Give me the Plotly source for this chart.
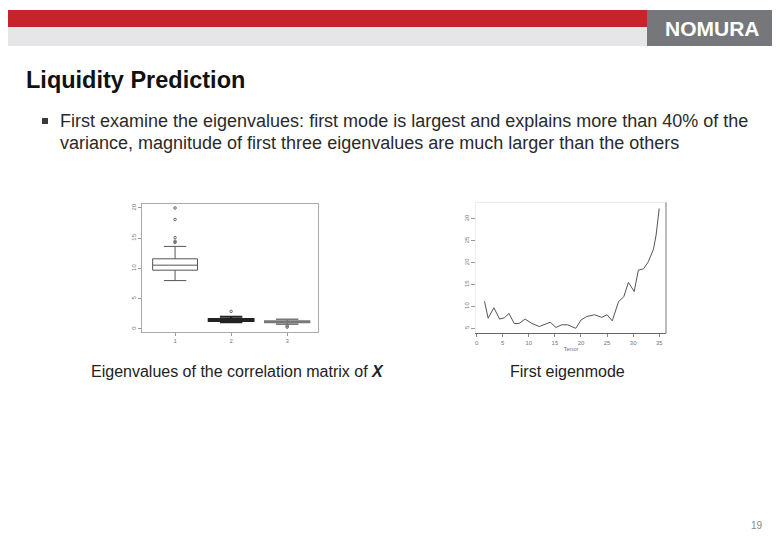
import plotly.graph_objects as go

# ---------------- data ----------------
# Left: eigenvalue boxplots
categories = [1, 2, 3]
q1 = [9.72, 1.33, 1.05]
median = [10.55, 1.50, 1.20]
q3 = [11.60, 1.66, 1.33]
lowerfence = [8.00, 1.11, 0.80]
upperfence = [13.65, 2.04, 1.62]
outlier_x = [1, 1, 1, 1, 1, 2, 3, 3]
outlier_y = [20.0, 18.1, 15.1, 14.5, 14.3, 2.9, 0.5, 0.3]
left_yticks = [0, 5, 10, 15, 20]

# Right: first eigenmode
tenor = [1.5, 2.2, 3.3, 4.4, 5.3, 6.2, 7.2, 8.1, 9.3, 10.6, 12.0, 12.8, 14.1, 15.2,
         16.3, 17.4, 19.0, 20.0, 21.1, 22.6, 24.0, 25.0, 26.0, 27.2, 28.2, 29.1,
         30.2, 31.0, 32.0, 32.9, 33.9, 34.4, 35.0]
mode1 = [11.2, 7.3, 9.7, 7.1, 7.4, 8.4, 6.1, 6.1, 7.1, 6.1, 5.4, 5.8, 6.4, 5.2,
         5.8, 5.8, 5.0, 6.9, 7.7, 8.1, 7.5, 8.1, 6.7, 11.1, 12.2, 15.5,
         13.4, 18.3, 18.6, 20.2, 23.1, 26.3, 32.4]
right_xticks = [0, 5, 10, 15, 20, 25, 30, 35]
right_yticks = [5, 10, 15, 20, 25, 30]

title = "Liquidity Prediction"
bullet_lines = [
    "First examine the eigenvalues: first mode is largest and explains more than 40% of the",
    "variance, magnitude of first three eigenvalues are much larger than the others",
]
caption_left = "Eigenvalues of the correlation matrix of <b><i>X</i></b>"
caption_right = "First eigenmode"
page_no = "19"

W, H = 780, 540
OFF = 8  # page body margin
FONT = "Arial, Liberation Sans, sans-serif"


def px(x):
    return (x - OFF) / W


def py(y):
    return 1 - (y - OFF) / H


fig = go.Figure()

box_styles = [
    dict(line=dict(color="#555555", width=1), fillcolor="white"),
    dict(line=dict(color="#222222", width=2), fillcolor="#222222"),
    dict(line=dict(color="#777777", width=1.5), fillcolor="#999999"),
]
for i, c in enumerate(categories):
    fig.add_trace(go.Box(
        x=[c], q1=[q1[i]], median=[median[i]], q3=[q3[i]],
        lowerfence=[lowerfence[i]], upperfence=[upperfence[i]],
        width=0.8, whiskerwidth=0.5, boxpoints=False,
        showlegend=False, xaxis="x", yaxis="y", **box_styles[i]))

fig.add_trace(go.Scatter(
    x=outlier_x, y=outlier_y, mode="markers",
    marker=dict(symbol="circle-open", size=2.5, color="#666666", line=dict(width=1)),
    showlegend=False, xaxis="x", yaxis="y"))

fig.add_trace(go.Scatter(
    x=tenor, y=mode1, mode="lines",
    line=dict(color="#555555", width=1),
    showlegend=False, xaxis="x2", yaxis="y2"))

tickfont = dict(family=FONT, size=6, color="#777777")

fig.update_layout(
    width=W, height=H,
    margin=dict(l=0, r=0, t=0, b=0),
    paper_bgcolor="white", plot_bgcolor="white",
    showlegend=False,
    xaxis=dict(domain=[px(142), px(318)], range=[0.41, 3.55],
               tickvals=categories, ticktext=[str(c) for c in categories],
               ticks="outside", ticklen=3, tickcolor="#999999",
               showline=True, linecolor="#aaaaaa", mirror=True,
               showgrid=False, zeroline=False, tickfont=tickfont),
    yaxis=dict(domain=[py(332), py(204)], range=[-0.5, 20.66],
               tickvals=left_yticks, ticktext=[str(v) for v in left_yticks],
               tickangle=-90,
               ticks="outside", ticklen=3, tickcolor="#999999",
               showline=True, linecolor="#aaaaaa", mirror=True,
               showgrid=False, zeroline=False, tickfont=tickfont),
    xaxis2=dict(domain=[px(476), px(666)], range=[-0.13, 36.3], anchor="y2",
                tickvals=right_xticks, ticktext=[str(v) for v in right_xticks],
                ticks="outside", ticklen=3, tickcolor="#888888",
                showline=True, linecolor="#666666",
                showgrid=False, zeroline=False, tickfont=tickfont,
                title=dict(text="Tenor", font=dict(family=FONT, size=6, color="#777777"),
                           standoff=2)),
    yaxis2=dict(domain=[py(333.3), py(202.3)], range=[3.86, 33.8], anchor="x2",
                tickvals=right_yticks, ticktext=[str(v) for v in right_yticks],
                tickangle=-90,
                ticks="outside", ticklen=4, tickcolor="#999999",
                showline=True, linecolor="#eeeeee",
                showgrid=False, zeroline=False, tickfont=tickfont),
)

shapes = [
    # header bars
    dict(type="rect", xref="paper", yref="paper", x0=px(0), x1=px(647), y0=py(27), y1=py(10),
         fillcolor="#C8232A", line=dict(width=0), layer="above"),
    dict(type="rect", xref="paper", yref="paper", x0=px(0), x1=px(647), y0=py(46), y1=py(27),
         fillcolor="#E6E6E8", line=dict(width=0), layer="above"),
    dict(type="rect", xref="paper", yref="paper", x0=px(647), x1=px(800), y0=py(46), y1=py(10),
         fillcolor="#76777A", line=dict(width=0), layer="above"),
    # bullet square
    dict(type="rect", xref="paper", yref="paper", x0=px(42), x1=px(48), y0=py(124), y1=py(118),
         fillcolor="#3a3a3a", line=dict(width=0)),
    # right chart frame (top light, right darker)
    dict(type="line", xref="x2 domain", yref="y2 domain", x0=0, x1=1, y0=1, y1=1,
         line=dict(color="#e8e8e8", width=1)),
    dict(type="line", xref="x2 domain", yref="y2 domain", x0=1, x1=1, y0=0, y1=1,
         line=dict(color="#777777", width=1)),
]

annotations = [
    dict(text="<b>NOMURA</b>", x=px(712), y=py(29), xref="paper", yref="paper",
         showarrow=False, font=dict(family=FONT, size=21, color="white"),
         xanchor="center", yanchor="middle"),
    dict(text="<b>" + title + "</b>", x=px(24), y=py(80), xref="paper", yref="paper",
         showarrow=False, font=dict(family=FONT, size=23.5, color="#111111"),
         xanchor="left", yanchor="middle"),
    dict(text=bullet_lines[0], x=px(58), y=py(121), xref="paper", yref="paper",
         showarrow=False, font=dict(family=FONT, size=18, color="#2a2a2a"),
         xanchor="left", yanchor="middle"),
    dict(text=bullet_lines[1], x=px(58), y=py(143), xref="paper", yref="paper",
         showarrow=False, font=dict(family=FONT, size=18, color="#2a2a2a"),
         xanchor="left", yanchor="middle"),
    dict(text=caption_left, x=px(89), y=py(371), xref="paper", yref="paper",
         showarrow=False, font=dict(family=FONT, size=16, color="#222222"),
         xanchor="left", yanchor="middle"),
    dict(text=caption_right, x=px(508), y=py(371), xref="paper", yref="paper",
         showarrow=False, font=dict(family=FONT, size=16, color="#222222"),
         xanchor="left", yanchor="middle"),
    dict(text=page_no, x=px(757), y=py(525), xref="paper", yref="paper",
         showarrow=False, font=dict(family=FONT, size=10, color="#888888"),
         xanchor="center", yanchor="middle"),
]

fig.update_layout(shapes=shapes, annotations=annotations)
fig.write_html("out.html")
